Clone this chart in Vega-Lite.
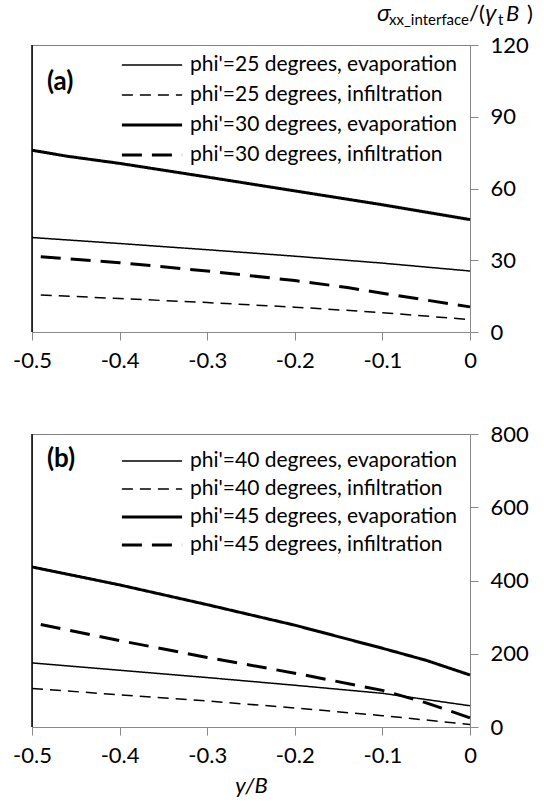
{
  "$schema": "https://vega.github.io/schema/vega-lite/v6.json",
  "padding": {"left": 12, "top": 2, "right": 0, "bottom": 0},
  "spacing": 50,
  "config": {
    "view": {"stroke": "#808080", "strokeWidth": 1},
    "font": "Lato",
    "axis": {
      "grid": false,
      "domainColor": "#898989",
      "tickColor": "#898989",
      "tickSize": 8,
      "labelColor": "black",
      "labelFont": "Lato",
      "labelFontSize": 22,
      "titleFont": "Lato",
      "titleColor": "black"
    },
    "legend": {
      "labelFont": "Lato",
      "labelFontSize": 21,
      "labelColor": "black",
      "labelLimit": 400,
      "symbolType": "stroke",
      "symbolSize": 3620,
      "symbolStrokeColor": "black",
      "rowPadding": 2,
      "labelOffset": 6,
      "padding": 0,
      "title": null
    }
  },
  "datasets": {
    "a": [
      {"series": "phi'=25 degrees, evaporation", "x": -0.5, "v": 39.5},
      {"series": "phi'=25 degrees, evaporation", "x": -0.4, "v": 37.0},
      {"series": "phi'=25 degrees, evaporation", "x": -0.3, "v": 34.4},
      {"series": "phi'=25 degrees, evaporation", "x": -0.2, "v": 31.7},
      {"series": "phi'=25 degrees, evaporation", "x": -0.1, "v": 28.8},
      {"series": "phi'=25 degrees, evaporation", "x": 0, "v": 25.5},
      {"series": "phi'=25 degrees, infiltration", "x": -0.49, "v": 15.5},
      {"series": "phi'=25 degrees, infiltration", "x": -0.4, "v": 14.0},
      {"series": "phi'=25 degrees, infiltration", "x": -0.3, "v": 12.3},
      {"series": "phi'=25 degrees, infiltration", "x": -0.2, "v": 10.4},
      {"series": "phi'=25 degrees, infiltration", "x": -0.1, "v": 8.1},
      {"series": "phi'=25 degrees, infiltration", "x": 0, "v": 5.2},
      {"series": "phi'=30 degrees, evaporation", "x": -0.5, "v": 76.0},
      {"series": "phi'=30 degrees, evaporation", "x": -0.46, "v": 73.5},
      {"series": "phi'=30 degrees, evaporation", "x": -0.4, "v": 70.5},
      {"series": "phi'=30 degrees, evaporation", "x": -0.3, "v": 64.8},
      {"series": "phi'=30 degrees, evaporation", "x": -0.2, "v": 59.0},
      {"series": "phi'=30 degrees, evaporation", "x": -0.1, "v": 53.2},
      {"series": "phi'=30 degrees, evaporation", "x": 0, "v": 47.0},
      {"series": "phi'=30 degrees, infiltration", "x": -0.49, "v": 31.5},
      {"series": "phi'=30 degrees, infiltration", "x": -0.4, "v": 29.0},
      {"series": "phi'=30 degrees, infiltration", "x": -0.3, "v": 25.5},
      {"series": "phi'=30 degrees, infiltration", "x": -0.2, "v": 21.5},
      {"series": "phi'=30 degrees, infiltration", "x": -0.14, "v": 18.6},
      {"series": "phi'=30 degrees, infiltration", "x": -0.1, "v": 16.2},
      {"series": "phi'=30 degrees, infiltration", "x": 0, "v": 10.5}
    ],
    "b": [
      {"series": "phi'=40 degrees, evaporation", "x": -0.5, "v": 175},
      {"series": "phi'=40 degrees, evaporation", "x": -0.4, "v": 155},
      {"series": "phi'=40 degrees, evaporation", "x": -0.3, "v": 135},
      {"series": "phi'=40 degrees, evaporation", "x": -0.2, "v": 114},
      {"series": "phi'=40 degrees, evaporation", "x": -0.1, "v": 92},
      {"series": "phi'=40 degrees, evaporation", "x": 0, "v": 58},
      {"series": "phi'=40 degrees, infiltration", "x": -0.5, "v": 105},
      {"series": "phi'=40 degrees, infiltration", "x": -0.4, "v": 88},
      {"series": "phi'=40 degrees, infiltration", "x": -0.3, "v": 71},
      {"series": "phi'=40 degrees, infiltration", "x": -0.2, "v": 52},
      {"series": "phi'=40 degrees, infiltration", "x": -0.1, "v": 31},
      {"series": "phi'=40 degrees, infiltration", "x": 0, "v": 7},
      {"series": "phi'=45 degrees, evaporation", "x": -0.5, "v": 437},
      {"series": "phi'=45 degrees, evaporation", "x": -0.4, "v": 388},
      {"series": "phi'=45 degrees, evaporation", "x": -0.3, "v": 334},
      {"series": "phi'=45 degrees, evaporation", "x": -0.2, "v": 278},
      {"series": "phi'=45 degrees, evaporation", "x": -0.1, "v": 215},
      {"series": "phi'=45 degrees, evaporation", "x": -0.05, "v": 182},
      {"series": "phi'=45 degrees, evaporation", "x": 0, "v": 142},
      {"series": "phi'=45 degrees, infiltration", "x": -0.49, "v": 280},
      {"series": "phi'=45 degrees, infiltration", "x": -0.4, "v": 236},
      {"series": "phi'=45 degrees, infiltration", "x": -0.3, "v": 190},
      {"series": "phi'=45 degrees, infiltration", "x": -0.2, "v": 147},
      {"series": "phi'=45 degrees, infiltration", "x": -0.1, "v": 100},
      {"series": "phi'=45 degrees, infiltration", "x": -0.05, "v": 66},
      {"series": "phi'=45 degrees, infiltration", "x": 0, "v": 25}
    ]
  },
  "vconcat": [
    {
      "width": 438,
      "height": 287,
      "layer": [
        {
          "data": {"values": [{}]},
          "mark": {"type": "rule", "color": "black", "strokeWidth": 1.5},
          "encoding": {"x": {"datum": -0.5, "type": "quantitative"}}
        },
        {
          "data": {"name": "a"},
          "mark": {"type": "line", "color": "black"},
          "encoding": {
            "x": {
              "field": "x", "type": "quantitative",
              "scale": {"domain": [-0.5, 0], "nice": false, "zero": false},
              "axis": {"values": [-0.5, -0.4, -0.3, -0.2, -0.1, 0], "format": ".1~f", "labelExpr": "replace(datum.label, '−', '-')", "title": null, "labelPadding": 10, "labelFlush": false}
            },
            "y": {
              "field": "v", "type": "quantitative",
              "scale": {"domain": [0, 120], "nice": false},
              "axis": {"orient": "right", "values": [0, 30, 60, 90, 120], "title": null, "labelPadding": 12}
            },
            "strokeDash": {
              "field": "series", "type": "nominal",
              "scale": {
                "domain": ["phi'=25 degrees, evaporation", "phi'=25 degrees, infiltration", "phi'=30 degrees, evaporation", "phi'=30 degrees, infiltration"],
                "range": [[1, 0], [11, 7], [1, 0], [20, 10]]
              },
              "legend": {"orient": "none", "legendX": 88, "legendY": 6, "clipHeight": 28}
            },
            "strokeWidth": {
              "field": "series", "type": "nominal",
              "scale": {
                "type": "ordinal",
                "domain": ["phi'=25 degrees, evaporation", "phi'=25 degrees, infiltration", "phi'=30 degrees, evaporation", "phi'=30 degrees, infiltration"],
                "range": [1.5, 1.5, 3, 3]
              },
              "legend": {"orient": "none", "legendX": 88, "legendY": 6, "clipHeight": 28}
            }
          }
        },
        {
          "data": {"values": [{}]},
          "mark": {"type": "text", "text": "(a)", "fontWeight": "bold", "fontSize": 26, "align": "left", "baseline": "middle", "font": "Lato"},
          "encoding": {"x": {"datum": -0.483, "type": "quantitative"}, "y": {"datum": 104.5, "type": "quantitative"}}
        },
        {
          "data": {"values": [{}]},
          "mark": {"type": "text", "text": "σ", "fontStyle": "italic", "fontSize": 22, "align": "left", "baseline": "alphabetic", "font": "Liberation Sans", "dx": -93, "dy": -24},
          "encoding": {"x": {"datum": 0, "type": "quantitative"}, "y": {"datum": 120, "type": "quantitative"}}
        },
        {
          "data": {"values": [{}]},
          "mark": {"type": "text", "text": "xx_interface", "fontSize": 15, "align": "left", "baseline": "alphabetic", "font": "Lato", "dx": -81, "dy": -20},
          "encoding": {"x": {"datum": 0, "type": "quantitative"}, "y": {"datum": 120, "type": "quantitative"}}
        },
        {
          "data": {"values": [{}]},
          "mark": {"type": "text", "text": "/(", "fontSize": 22, "align": "left", "baseline": "alphabetic", "font": "Lato", "dx": -1, "dy": -24},
          "encoding": {"x": {"datum": 0, "type": "quantitative"}, "y": {"datum": 120, "type": "quantitative"}}
        },
        {
          "data": {"values": [{}]},
          "mark": {"type": "text", "text": "γ", "fontStyle": "italic", "fontSize": 22, "align": "left", "baseline": "alphabetic", "font": "Liberation Sans", "dx": 15, "dy": -24},
          "encoding": {"x": {"datum": 0, "type": "quantitative"}, "y": {"datum": 120, "type": "quantitative"}}
        },
        {
          "data": {"values": [{}]},
          "mark": {"type": "text", "text": "t", "fontSize": 15, "align": "left", "baseline": "alphabetic", "font": "Lato", "dx": 28, "dy": -20},
          "encoding": {"x": {"datum": 0, "type": "quantitative"}, "y": {"datum": 120, "type": "quantitative"}}
        },
        {
          "data": {"values": [{}]},
          "mark": {"type": "text", "text": "B", "fontStyle": "italic", "fontSize": 22, "align": "left", "baseline": "alphabetic", "font": "Lato", "dx": 36, "dy": -24},
          "encoding": {"x": {"datum": 0, "type": "quantitative"}, "y": {"datum": 120, "type": "quantitative"}}
        },
        {
          "data": {"values": [{}]},
          "mark": {"type": "text", "text": ")", "fontSize": 22, "align": "left", "baseline": "alphabetic", "font": "Lato", "dx": 57, "dy": -24},
          "encoding": {"x": {"datum": 0, "type": "quantitative"}, "y": {"datum": 120, "type": "quantitative"}}
        }
      ]
    },
    {
      "width": 438,
      "height": 293,
      "layer": [
        {
          "data": {"values": [{}]},
          "mark": {"type": "rule", "color": "black", "strokeWidth": 1.5},
          "encoding": {"x": {"datum": -0.5, "type": "quantitative"}}
        },
        {
          "data": {"name": "b"},
          "mark": {"type": "line", "color": "black"},
          "encoding": {
            "x": {
              "field": "x", "type": "quantitative",
              "scale": {"domain": [-0.5, 0], "nice": false, "zero": false},
              "axis": {"values": [-0.5, -0.4, -0.3, -0.2, -0.1, 0], "format": ".1~f", "labelExpr": "replace(datum.label, '−', '-')", "title": "y/B", "titleFontStyle": "italic", "titleFontWeight": "normal", "titleFontSize": 22, "titlePadding": 9, "labelPadding": 10, "labelFlush": false}
            },
            "y": {
              "field": "v", "type": "quantitative",
              "scale": {"domain": [0, 800], "nice": false},
              "axis": {"orient": "right", "values": [0, 200, 400, 600, 800], "title": null, "labelPadding": 12}
            },
            "strokeDash": {
              "field": "series", "type": "nominal",
              "scale": {
                "domain": ["phi'=40 degrees, evaporation", "phi'=40 degrees, infiltration", "phi'=45 degrees, evaporation", "phi'=45 degrees, infiltration"],
                "range": [[1, 0], [11, 7], [1, 0], [20, 10]]
              },
              "legend": {"orient": "none", "legendX": 88, "legendY": 14, "clipHeight": 26}
            },
            "strokeWidth": {
              "field": "series", "type": "nominal",
              "scale": {
                "type": "ordinal",
                "domain": ["phi'=40 degrees, evaporation", "phi'=40 degrees, infiltration", "phi'=45 degrees, evaporation", "phi'=45 degrees, infiltration"],
                "range": [1.5, 1.5, 3, 3]
              },
              "legend": {"orient": "none", "legendX": 88, "legendY": 14, "clipHeight": 26}
            }
          }
        },
        {
          "data": {"values": [{}]},
          "mark": {"type": "text", "text": "(b)", "fontWeight": "bold", "fontSize": 26, "align": "left", "baseline": "middle", "font": "Lato"},
          "encoding": {"x": {"datum": -0.483, "type": "quantitative"}, "y": {"datum": 731, "type": "quantitative"}}
        }
      ]
    }
  ],
  "resolve": {"scale": {"strokeDash": "independent", "strokeWidth": "independent"}, "legend": {"strokeDash": "independent", "strokeWidth": "independent"}}
}
